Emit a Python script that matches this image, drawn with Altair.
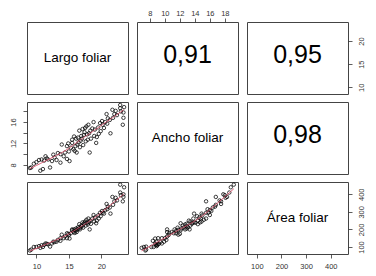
import altair as alt
import pandas as pd

largo = [9.0, 9.2, 9.6, 10.6, 11.0, 10.4, 10.8, 11.2, 11.6, 12.1,
         12.4, 11.8, 12.8, 13.1, 13.7, 13.7, 13.9, 14.2, 14.7, 15.1,
         14.7, 14.4, 15.0, 15.5, 15.5, 15.7, 15.9, 16.2, 16.0, 16.3,
         16.5, 16.8, 17.0, 16.7, 17.2, 16.6, 17.1, 17.5, 17.7, 18.0,
         18.3, 18.6, 17.8, 18.2, 18.9, 19.2, 19.3, 19.6, 19.5, 19.8,
         20.1, 20.6, 20.2, 21.0, 21.4, 21.3, 21.8, 22.0, 22.4, 22.2,
         22.9, 23.4, 23.4, 23.3, 23.0, 23.5, 22.9, 21.7, 20.8, 16.4,
         16.9, 17.3, 17.6, 16.1, 15.8, 17.4, 18.1, 18.4, 17.9, 15.3,
         14.9, 13.3, 12.6, 10.0, 11.4, 19.0, 19.9, 20.4, 20.9, 18.8]
ancho = [7.4, 7.5, 8.2, 6.9, 7.2, 8.9, 9.0, 8.8, 9.2, 7.5,
         8.7, 9.0, 9.4, 8.9, 10.0, 8.4, 11.8, 9.6, 9.1, 8.7,
         11.5, 10.3, 10.5, 12.7, 12.1, 10.9, 10.6, 10.3, 11.5, 11.8,
         12.2, 12.5, 12.9, 11.3, 11.7, 14.4, 14.7, 14.9, 15.2, 15.5,
         14.4, 14.8, 13.7, 10.3, 13.4, 12.1, 13.2, 13.8, 15.0, 15.8,
         16.2, 16.0, 15.5, 16.7, 13.9, 16.4, 16.8, 17.5, 17.3, 18.1,
         18.6, 17.8, 16.8, 15.5, 18.0, 18.8, 19.2, 18.3, 17.5, 13.1,
         13.4, 13.6, 12.4, 12.9, 13.3, 14.1, 13.9, 12.9, 12.7, 11.2,
         12.0, 10.2, 9.9, 8.5, 9.6, 14.6, 14.3, 14.9, 15.7, 16.0]
area = [80, 85, 100, 95, 100, 105, 110, 112, 118, 102,
        120, 115, 128, 130, 150, 135, 170, 150, 150, 148,
        178, 160, 168, 200, 195, 185, 180, 185, 192, 198,
        205, 210, 218, 200, 210, 230, 240, 245, 255, 262,
        250, 262, 238, 200, 245, 235, 250, 262, 280, 295,
        305, 310, 295, 330, 290, 325, 340, 360, 365, 380,
        410, 400, 385, 360, 395, 440, 455, 385, 345, 212,
        222, 232, 222, 205, 200, 238, 240, 232, 228, 178,
        175, 140, 130, 100, 120, 268, 275, 290, 315, 282]

names = ["Largo foliar", "Ancho foliar", "Área foliar"]
corrs = ["0,91", "0,95", "0,98"]

largo_dom = [8.55, 24.1]
ancho_dom = [6.28, 19.76]
area_dom = [60, 470]

ancho_ticks = [8, 10, 12, 14, 16, 18]
largo_ticks = [10, 15, 20]
area_ticks = [100, 200, 300, 400]

df = pd.DataFrame({"Largo": largo, "Ancho": ancho, "Area": area})

W, H = 101, 72
FONT = "Liberation Sans"


def ax(orient, values, angle=0, pad=2, expr=None):
    kw = dict(orient=orient, values=values, title=None, grid=False, domain=False,
              ticks=True, tickSize=4, tickColor="#333", tickWidth=0.8,
              labelColor="#333", labelFontSize=7.5, labelFont=FONT,
              labelPadding=pad, labelAngle=angle, labelOverlap=False)
    if expr is not None:
        kw["labelExpr"] = expr
    return alt.Axis(**kw)


def sc(dom):
    return alt.Scale(domain=dom, nice=False, zero=False)


def text_panel(txt, size, xdom, ydom, xaxis=None, yaxis=None, dy=0):
    return alt.Chart(pd.DataFrame({"t": [txt]})).mark_text(
        fontSize=size, font=FONT, color="black", baseline="middle", align="center", dy=dy
    ).encode(
        x=alt.X(datum=(xdom[0] + xdom[1]) / 2, type="quantitative", scale=sc(xdom), axis=xaxis),
        y=alt.Y(datum=(ydom[0] + ydom[1]) / 2, type="quantitative", scale=sc(ydom), axis=yaxis),
        text="t:N",
    ).properties(width=W, height=H)


def scatter(xf, yf, xdom, ydom, xaxis=None, yaxis=None):
    x = alt.X(f"{xf}:Q", scale=sc(xdom), axis=xaxis)
    y = alt.Y(f"{yf}:Q", scale=sc(ydom), axis=yaxis)
    pts = alt.Chart(df).mark_point(shape="circle", filled=False, size=12,
                                   strokeWidth=0.75, color="black", opacity=1).encode(x=x, y=y)
    line = alt.Chart(df).transform_loess(xf, yf, bandwidth=0.66).mark_line(
        color="#d9506a", strokeWidth=0.9).encode(x=x, y=y)
    return (pts + line).properties(width=W, height=H)


p11 = text_panel(names[0], 13.5, largo_dom, largo_dom)
p12 = text_panel(corrs[0], 25, ancho_dom, largo_dom,
                 xaxis=ax("top", ancho_ticks, pad=1), dy=-3)
p13 = text_panel(corrs[1], 25, area_dom, largo_dom,
                 yaxis=ax("right", largo_ticks, angle=-90, pad=5), dy=-3)

p21 = scatter("Largo", "Ancho", largo_dom, ancho_dom,
              yaxis=ax("left", ancho_ticks, angle=-90, pad=6,
                       expr="datum.value % 4 == 0 ? datum.label : ''"))
p22 = text_panel(names[1], 13.5, ancho_dom, ancho_dom)
p23 = text_panel(corrs[2], 25, area_dom, ancho_dom, dy=-3)

p31 = scatter("Largo", "Area", largo_dom, area_dom,
              xaxis=ax("bottom", largo_ticks, pad=4))
p32 = scatter("Ancho", "Area", ancho_dom, area_dom)
p33 = text_panel(names[2], 13.5, area_dom, area_dom,
                 xaxis=ax("bottom", area_ticks, pad=4),
                 yaxis=ax("right", area_ticks, angle=-90, pad=5))

chart = alt.concat(p11, p12, p13, p21, p22, p23, p31, p32, p33,
                   columns=3, spacing={"row": 8, "column": 9}, bounds="flush"
).properties(
    padding={"left": 0, "top": 0, "right": 0, "bottom": 0},
    background="white",
).configure_view(stroke="#444", strokeWidth=1)

chart.save("out.html", embed_options={"renderer": "svg", "actions": False})
